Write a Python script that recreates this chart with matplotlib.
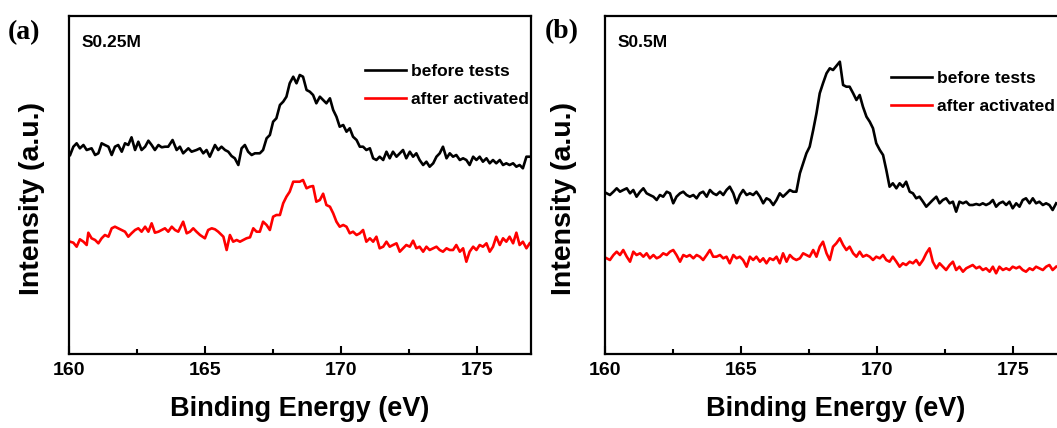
import matplotlib
matplotlib.use("Agg")
import matplotlib.pyplot as plt

# --- panel (a): S0.25M ---
a_before_e = [160.04, 160.16, 160.28, 160.40, 160.53, 160.65, 160.83, 160.96, 161.08, 161.20,
              161.32, 161.45, 161.57, 161.69, 161.81, 161.94, 162.06, 162.18, 162.30, 162.43,
              162.55, 162.67, 162.80, 162.92, 163.04, 163.16, 163.29, 163.41, 163.53, 163.65,
              163.81, 163.96, 164.08, 164.20, 164.39, 164.51, 164.69, 164.82, 164.94, 165.06,
              165.18, 165.37, 165.49, 165.61, 165.74, 165.86, 165.98, 166.10, 166.23, 166.35,
              166.47, 166.59, 166.72, 166.84,
              167.02, 167.14, 167.27, 167.39, 167.51, 167.63, 167.76, 167.88, 168.00, 168.12,
              168.25, 168.37, 168.49, 168.61, 168.74, 168.86, 168.98, 169.10, 169.23, 169.35,
              169.47, 169.60, 169.72, 169.84, 169.96, 170.09, 170.21, 170.33, 170.45, 170.58,
              170.70, 170.82, 170.94, 171.07, 171.19, 171.31, 171.43, 171.56, 171.68, 171.80,
              171.92, 172.05, 172.17, 172.29, 172.41, 172.54, 172.66, 172.78, 172.90, 173.03,
              173.15, 173.27, 173.40, 173.52, 173.64, 173.76, 173.89, 174.01, 174.13, 174.25,
              174.38, 174.50, 174.62, 174.74, 174.87, 174.99, 175.11, 175.23, 175.36, 175.48,
              175.60, 175.72, 175.85, 175.97, 176.09, 176.21, 176.34, 176.46, 176.58, 176.70,
              176.83, 176.95]
a_before_i = [199, 207.3, 210.7, 205.7, 209, 204, 205.7, 199, 200.7, 210.7,
              209, 207.3, 199, 207.3, 209, 202.3, 210.7, 209, 216.7, 204,
              212.3, 204, 207.3, 213.3, 209, 204, 209, 206.7, 207.3, 207.3,
              214, 204, 207.3, 200.7, 205.7, 202.3, 204, 205.7, 200.7, 204,
              197.3, 209, 204, 207.3, 204, 202.3, 198, 195.7, 189, 205.7,
              209, 202.3, 199, 200.7,
              200.7, 204, 215.7, 219, 232.3, 235.7, 249, 252.3, 257.3, 270.7,
              277.3, 270.7, 279, 277.3, 264, 262.3, 259, 250.7, 257.3, 254,
              250.7, 255.7, 244, 237.3, 227.3, 229, 222.3, 225.7, 217.3, 214,
              207.3, 207.3, 204, 205.7, 195.7, 194, 197.3, 194, 202.3, 195.7,
              202.3, 197.3, 200.7, 204, 195.7, 202.3, 197.3, 200.7, 194, 189,
              192.3, 187.3, 190.7, 197.3, 200.7, 207.3, 195.7, 200.7, 197.3, 199,
              194, 195.7, 194, 189, 197.3, 194, 197.3, 192.3, 195.7, 190.7,
              194, 190.7, 194, 189, 190.7, 189, 190.7, 187.3, 189, 185.7,
              197.3, 197.3]

a_after_e = [160.04, 160.16, 160.28, 160.40, 160.53, 160.65, 160.71, 160.83, 160.96, 161.08,
             161.20, 161.32, 161.45, 161.57, 161.69, 161.81, 161.94, 162.06, 162.18, 162.30,
             162.43, 162.55, 162.67, 162.80, 162.92, 163.04, 163.16, 163.29, 163.41, 163.53,
             163.65, 163.78, 163.90, 164.02, 164.20, 164.33, 164.45, 164.57, 164.69, 164.82,
             165.00, 165.12, 165.25, 165.37, 165.49, 165.68, 165.80, 165.92, 166.04, 166.17,
             166.29, 166.41, 166.53, 166.66, 166.78, 166.90,
             167.02, 167.14, 167.27, 167.39, 167.51, 167.63, 167.76, 167.88, 168.00, 168.12,
             168.25, 168.37, 168.49, 168.61, 168.74, 168.86, 168.98, 169.10, 169.23, 169.35,
             169.47, 169.60, 169.72, 169.84, 169.96, 170.09, 170.21, 170.33, 170.45, 170.58,
             170.70, 170.82, 170.94, 171.07, 171.19, 171.31, 171.43, 171.56, 171.68, 171.80,
             171.92, 172.05, 172.17, 172.29, 172.41, 172.54, 172.66, 172.78, 172.90, 173.03,
             173.15, 173.27, 173.40, 173.52, 173.64, 173.76, 173.89, 174.01, 174.13, 174.25,
             174.38, 174.50, 174.62, 174.74, 174.87, 174.99, 175.11, 175.23, 175.36, 175.48,
             175.60, 175.72, 175.85, 175.97, 176.09, 176.21, 176.34, 176.46, 176.58, 176.70,
             176.83, 176.95]
a_after_i = [112.3, 111.3, 107.3, 114.7, 112.3, 109, 121.3, 115.7, 114, 110.7,
             115.7, 119, 117.3, 125.7, 127.3, 125.7, 124, 122.3, 117.3, 120.7,
             124, 125.7, 122.3, 127.3, 122.3, 130.7, 121.3, 122.3, 124, 125.7,
             122.3, 127.3, 124, 122.3, 132.3, 120.7, 122.3, 125.7, 122.3, 119,
             115.7, 124, 125.7, 124.7, 122.3, 117.3, 104, 119, 112.3, 114,
             112.3, 114, 115.7, 116.7, 125.7, 122.3,
             122.3, 132.3, 129, 124, 137.3, 139, 139, 150.7, 157.3, 162.3,
             172.3, 172.3, 172.3, 174, 165.7, 167.3, 168, 152.3, 154, 160.3,
             149, 147.3, 140.7, 132.3, 127.3, 129, 127.3, 120.7, 122.3, 119,
             120.7, 124, 112.3, 115.7, 112.3, 117.3, 105.7, 107.3, 112.3, 107.3,
             109, 110.7, 102.3, 105.7, 109, 107.3, 113.3, 105.7, 107.3, 102.3,
             107.3, 104, 105.7, 107.3, 104, 102.3, 105.7, 104, 104, 109,
             102.3, 105.7, 92.3, 102.3, 107.3, 104, 109, 107.3, 110.7, 102.3,
             107.3, 117.3, 109, 115.7, 112.3, 117.3, 110.7, 121.3, 109, 112.3,
             105.7, 110.7]

# --- panel (b): S0.5M ---
b_e = [160.06, 160.18, 160.31, 160.43, 160.55, 160.67, 160.80, 160.92, 161.04, 161.16,
       161.29, 161.41, 161.53, 161.65, 161.78, 161.90, 162.02, 162.14, 162.27, 162.39,
       162.51, 162.63, 162.76, 162.88, 163.00, 163.12, 163.25, 163.37, 163.49, 163.61,
       163.74, 163.86, 163.98, 164.10, 164.23, 164.35, 164.47, 164.59, 164.72, 164.84,
       164.96, 165.08, 165.21, 165.33, 165.45, 165.57, 165.70, 165.82, 165.94, 166.06,
       166.19, 166.31, 166.43, 166.55, 166.68, 166.80, 166.92, 167.04, 167.17, 167.29,
       167.41, 167.53, 167.66, 167.78, 167.90, 168.02, 168.15, 168.27, 168.39, 168.51,
       168.64, 168.76, 168.88, 169.00, 169.13, 169.25, 169.37, 169.49, 169.62, 169.74,
       169.86, 169.98, 170.11, 170.23, 170.35, 170.47, 170.59, 170.72, 170.84, 170.96,
       171.08, 171.21, 171.33, 171.45, 171.57, 171.70, 171.82, 171.94, 172.06, 172.19,
       172.31, 172.43, 172.55, 172.68, 172.80, 172.92, 173.04, 173.17, 173.29, 173.41,
       173.53, 173.66, 173.78, 173.90, 174.02, 174.15, 174.27, 174.39, 174.51, 174.64,
       174.76, 174.88, 175.00, 175.13, 175.25, 175.37, 175.49, 175.62, 175.74, 175.86,
       175.98, 176.11, 176.23, 176.35, 176.47, 176.60]
b_before_i = [160.7, 159, 162.3, 165.7, 162.3, 164, 165.7, 160.7, 164, 157.3,
              162.3, 165.7, 160.7, 159, 157.3, 154, 159, 157.3, 162.3, 160.7,
              150.7, 157.3, 160.7, 162.3, 159, 157.3, 159, 155.7, 160.7, 162.3,
              157.3, 164, 160.7, 159, 162.3, 159, 164, 167.3, 160.7, 150.7,
              159, 164, 159, 160.7, 159, 162.3, 157.3, 150.7, 155.7, 154,
              149, 154, 160.7, 157.3, 160.7, 164, 162.3, 162.3, 180.7, 190.7,
              200.7, 207.3, 224, 240.7, 260.7, 270.7, 280.7, 285.7, 284, 288,
              292.3, 269, 267.3, 267.3, 260.7, 254, 259, 247.3, 237.3, 232.3,
              225.7, 210.7, 204, 199, 184, 167.3, 170.7, 165.7, 170.7, 167.3,
              172.3, 162.3, 160.7, 155.7, 157.3, 152.3, 147.3, 150.7, 154, 157.3,
              150.7, 154, 155.7, 150.7, 152.3, 142.3, 152.3, 150.7, 152.3, 149,
              149, 150, 149, 150.7, 149, 150.7, 154, 147.3, 150.7, 152.3,
              149, 152.3, 145.7, 150.7, 147.3, 154, 155.7, 150.7, 155.7, 150.7,
              152.3, 149, 150.7, 149, 144, 150.7]
b_after_i = [95.7, 94, 99, 102.3, 99, 104, 97.3, 92.3, 102.3, 99,
             100.7, 97.3, 100.7, 95.7, 99, 95.7, 97.3, 100.7, 99, 102.3,
             104, 99, 92.3, 99, 97.3, 99, 95.7, 99, 97.3, 94,
             99, 104, 97.3, 97.3, 99, 95.7, 97.3, 90.7, 99, 95.7,
             97.3, 94, 87.3, 97.3, 94, 97.3, 92.3, 95.7, 90.7, 95.7,
             94, 97.3, 90.7, 100.7, 92.3, 99, 95.7, 94, 95.7, 100.7,
             99, 97.3, 104, 97.3, 107.3, 112.3, 100.7, 94, 107.3, 110.7,
             115.7, 109, 104, 107.3, 100.7, 97.3, 102.3, 97.3, 99, 97.3,
             94, 97.3, 95.7, 99, 94, 92.3, 97.3, 92.3, 87.3, 90.7,
             89, 92.3, 90.7, 94, 89, 94, 100.7, 105.7, 92.3, 85.7,
             90.7, 87.3, 84, 89, 92.3, 84, 87.3, 82.3, 85.7, 87.3,
             89, 85.7, 87.3, 84, 85.7, 82.3, 87.3, 80.7, 87.3, 84,
             85.7, 84, 87.3, 85.7, 87.3, 84, 82.3, 85.7, 84, 87.3,
             85.7, 84, 87.3, 89, 84, 87.3]

panel_tags = ["(a)", "(b)"]
sample_names = ["S0.25M", "S0.5M"]
series_labels = ["before tests", "after activated"]
xticks = [160, 165, 170, 175]

plt.rcParams["font.family"] = ["Liberation Sans", "DejaVu Sans"]
plt.rcParams["font.weight"] = "bold"

fig = plt.figure(figsize=(10.57, 4.28), dpi=100)
ax_a = fig.add_axes([0.0653, 0.1729, 0.4371, 0.7897])
ax_b = fig.add_axes([0.5724, 0.1729, 0.4371, 0.7897])

panels = [
    (ax_a, a_before_e, a_before_i, a_after_e, a_after_i, (0.640, 0.858), -0.053),
    (ax_b, b_e, b_before_i, b_e, b_after_i, (0.620, 0.838), -0.060),
]

for k, (ax, e1, i1, e2, i2, leg_pos, ylab_x) in enumerate(panels):
    ax.plot(e1, i1, color="black", lw=1.9, label=series_labels[0])
    ax.plot(e2, i2, color="#ff0000", lw=1.9, label=series_labels[1])
    ax.set_xlim(160, 177)
    ax.set_ylim(0, 338)
    ax.set_xticks(xticks)
    ax.set_xticks([162.5, 167.5, 172.5], minor=True)
    ax.set_yticks([])
    ax.tick_params(axis="x", which="major", direction="in", length=6, width=1.5,
                   labelsize=14, pad=6, top=False)
    ax.tick_params(axis="x", which="minor", direction="in", length=3.5, width=1.5, top=False)
    for sp in ax.spines.values():
        sp.set_linewidth(1.6)
    ax.set_xlabel("Binding Energy (eV)", fontsize=19.5, fontweight="bold", labelpad=12)
    ax.set_ylabel("Intensity (a.u.)", fontsize=20.5, fontweight="bold")
    ax.yaxis.set_label_coords(ylab_x, 0.46)
    ax.text(0.028, 0.945, sample_names[k], transform=ax.transAxes, fontsize=12.5,
            fontweight="bold", ha="left", va="top")
    ax.legend(loc="upper left", bbox_to_anchor=leg_pos, frameon=False, fontsize=12.5,
              handlelength=2.35, handletextpad=0.3, labelspacing=0.75,
              borderpad=0, borderaxespad=0)

fig.text(8 / 1057, 1 - 33 / 428, panel_tags[0], family="Liberation Serif",
         fontsize=20, fontweight="bold", ha="left", va="center")
fig.text(545 / 1057, 1 - 32 / 428, panel_tags[1], family="Liberation Serif",
         fontsize=20, fontweight="bold", ha="left", va="center")

fig.savefig("out.png", dpi=100)
plt.close(fig)
